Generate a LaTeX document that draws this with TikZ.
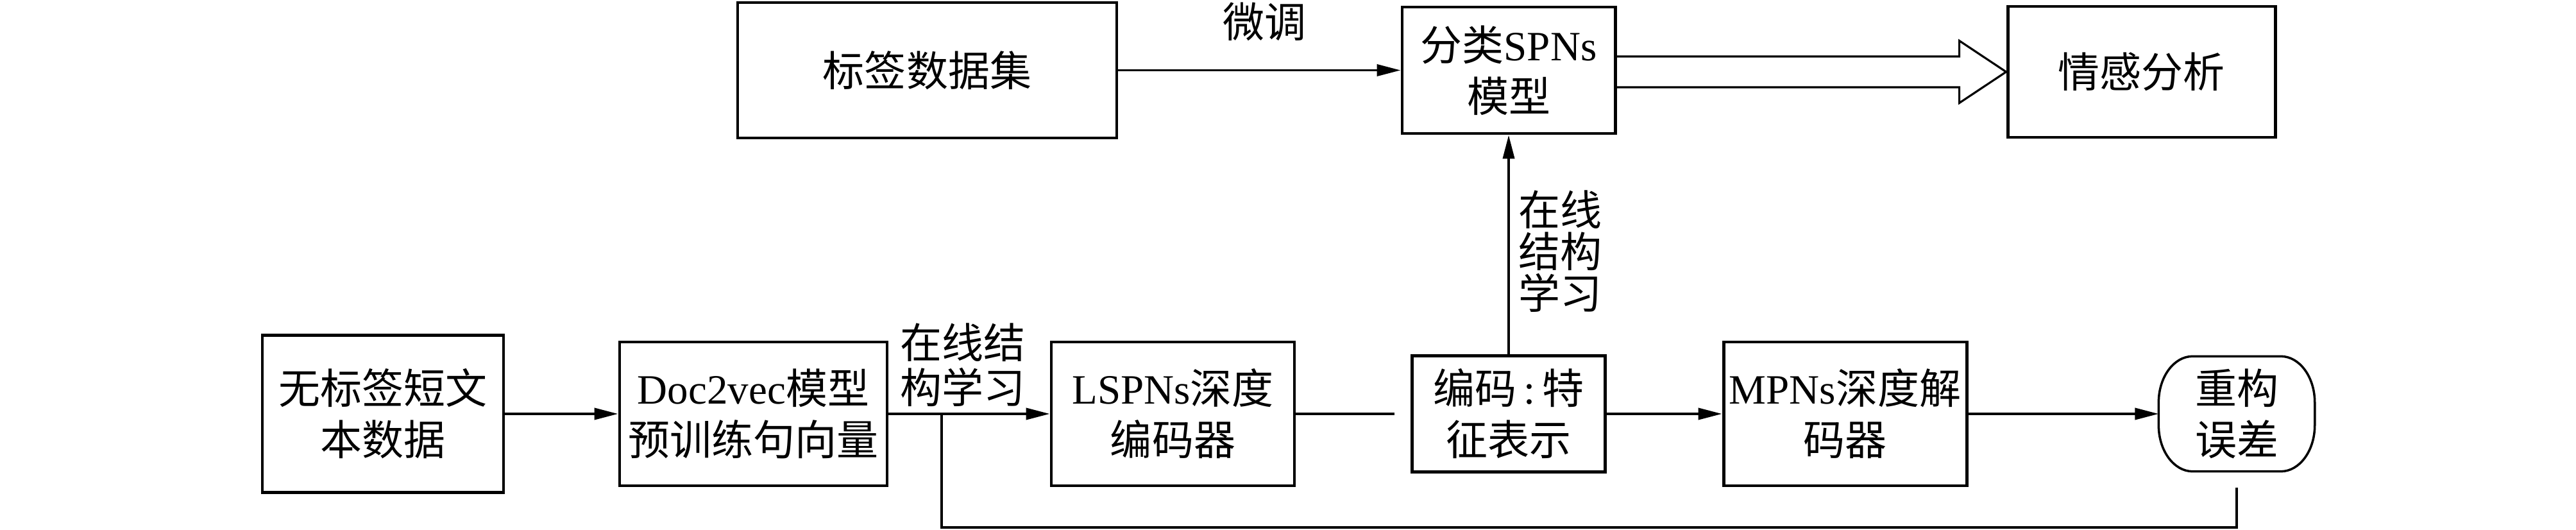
\documentclass[tikz,border=0pt]{standalone}
\usepackage{fontspec}
\setmainfont{Liberation Serif}
\newfontfamily\cjk{Noto Sans CJK SC}
\usetikzlibrary{arrows.meta,calc}

\begin{document}
\begin{tikzpicture}[>={Triangle[length=0.37cm,width=0.18cm]},
  font=\fontsize{18.5}{22.8}\selectfont,
  block/.style={draw, rectangle, line width=1.4pt, align=center, inner sep=0pt},
  link/.style={line width=1.1pt}]
\useasboundingbox (0,0) rectangle (40.16,8.25);

% Labelled data and classifier (top row)
\node[block, minimum width=5.91cm, minimum height=2.11cm] (labeled) at (14.455,7.155) {{\cjk 标签数据集}};
\node[block, minimum width=3.32cm, minimum height=1.97cm] (cls) at (23.52,7.155) {{\cjk 分类}SPNs\\{\cjk 模型}};
\node[block, minimum width=4.17cm, minimum height=2.04cm] (senti) at (33.385,7.13) {{\cjk 情感分析}};

% Unlabelled data and autoencoder (bottom row)
\node[block, minimum width=3.76cm, minimum height=2.45cm] (raw) at (5.97,1.80) {{\cjk 无标签短文}\\{\cjk 本数据}};
\node[block, minimum width=4.17cm, minimum height=2.24cm] (d2v) at (11.745,1.80) {Doc2vec{\cjk 模型}\\{\cjk 预训练句向量}};
\node[block, minimum width=3.79cm, minimum height=2.24cm] (enc) at (18.285,1.80) {LSPNs{\cjk 深度}\\{\cjk 编码器}};
\node[block, minimum width=3.01cm, minimum height=1.81cm] (code) at (23.52,1.80) {{\cjk 编码}\,:\,{\cjk 特}\\{\cjk 征表示}};
\node[block, minimum width=3.79cm, minimum height=2.24cm] (dec) at (28.765,1.80) {MPNs{\cjk 深度解}\\{\cjk 码器}};

% Reconstruction error
\node[align=center, inner sep=0pt, minimum width=2.42cm, minimum height=1.78cm] (err) at (34.87,1.80) {{\cjk 重构}\\{\cjk 误差}};
\draw[line width=1pt] ($(err.north west)+(0.53,0)$) -- ($(err.north east)+(-0.53,0)$)
  arc[start angle=90, end angle=0, x radius=0.53cm, y radius=0.72cm]
  -- ($(err.south east)+(0,0.72)$)
  arc[start angle=0, end angle=-90, x radius=0.53cm, y radius=0.72cm]
  -- ($(err.south west)+(0.53,0)$)
  arc[start angle=270, end angle=180, x radius=0.53cm, y radius=0.72cm]
  -- ($(err.north west)+(0,-0.72)$)
  arc[start angle=180, end angle=90, x radius=0.53cm, y radius=0.72cm] -- cycle;

% Labels
\node (tune) at (19.71,7.91) {{\cjk 微调}};
\node[font=\fontsize{18.5}{19.9}\selectfont, align=center] (learnA) at (15.01,2.56) {{\cjk 在线结}\\{\cjk 构学习}};
\node[font=\fontsize{18.5}{18.5}\selectfont, align=center] (learnB) at (24.32,4.33) {{\cjk 在线}\\{\cjk 结构}\\{\cjk 学习}};

% Arrows
\draw[->, link] (labeled) -- (cls);
\draw[->, link] (raw) -- (d2v);
\draw[->, link] (d2v) -- (enc);
\draw[link, shorten >=0.25cm] (enc) -- (code);
\draw[->, link] (code) -- (dec);
\draw[->, link] (dec) -- (err);
\draw[->, link] (code.north) -- (cls.south);

% Hollow arrow to sentiment analysis
\coordinate (tip) at (senti.west);
\coordinate (hu) at ($(tip)+(-0.73,0.24)$);
\coordinate (hl) at ($(tip)+(-0.73,-0.24)$);
\draw[line width=0.9pt, line join=miter] (cls.east |- hu) -- (hu) -- ++(0,0.245) -- (tip)
  -- ($(hl)+(0,-0.245)$) -- (hl) -- (cls.east |- hl);

% Feedback of the reconstruction error
\coordinate (fb) at ($(d2v.east)!0.33!(enc.west)$);
\coordinate (bot) at (0,0.03);
\draw[link] ($(err.south)+(0,-0.25)$) -- (err.south |- bot) -- (fb |- bot) -- (fb);
\end{tikzpicture}
\end{document}
